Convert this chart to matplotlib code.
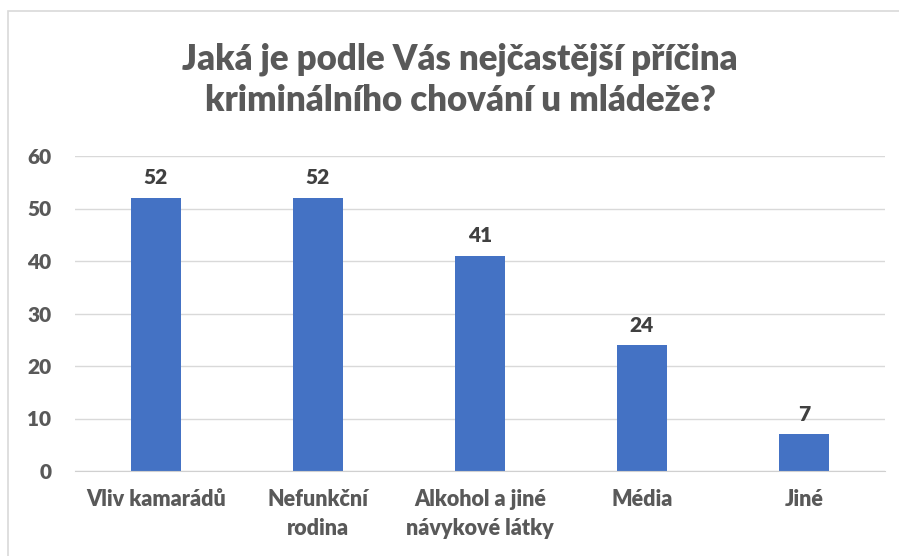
import matplotlib
matplotlib.use("Agg")
import matplotlib.pyplot as plt
from matplotlib.patches import Rectangle

categories = ["Vliv kamarádů", "Nefunkční\nrodina", "Alkohol a jiné\nnávykové látky", "Média", "Jiné"]
values = [52, 52, 41, 24, 7]
yticks = [0, 10, 20, 30, 40, 50, 60]
title = "Jaká je podle Vás nejčastější příčina\nkriminálního chování u mládeže?"

plt.rcParams['font.family'] = ['Lato', 'DejaVu Sans']
txt = '#595959'
W = 'heavy'

fig = plt.figure(figsize=(8.99, 5.56), dpi=100)
fig.patches.append(Rectangle((8/899, -0.1), 1.2, 1 - 11/556 + 0.1, transform=fig.transFigure,
                             fill=False, edgecolor='#d9d9d9', linewidth=1.2))
ax = fig.add_axes([75/899, 1 - 471/556, 810/899, 315/556])
x = list(range(len(categories)))
ax.bar(x, values, width=0.31, color='#4472C4', zorder=3)
for xi, v in zip(x, values):
    ax.text(xi, v + 2.0, str(v), ha='center', va='bottom', fontsize=15, fontweight=W, color='#404040')
ax.set_xlim(-0.5, len(categories) - 0.5)
ax.set_ylim(0, 60)
ax.set_yticks(yticks)
ax.set_yticklabels([str(t) for t in yticks], fontsize=15, fontweight=W, color=txt)
ax.set_xticks(x)
ax.set_xticklabels(categories, fontsize=15.5, fontweight=W, color=txt, linespacing=1.45)
ax.tick_params(axis='both', length=0)
ax.tick_params(axis='x', pad=13)
ax.tick_params(axis='y', pad=17)
ax.grid(axis='y', color='#d9d9d9', linewidth=1, zorder=0)
for s in ['top', 'right', 'left']:
    ax.spines[s].set_visible(False)
ax.spines['bottom'].set_color('#d0d0d0')
ax.spines['bottom'].set_zorder(4)
fig.text(460/899, 1 - 80/556, title, ha='center', va='center', fontsize=25, fontweight=W,
         color=txt, linespacing=1.3)
fig.savefig('out.png', dpi=100)
